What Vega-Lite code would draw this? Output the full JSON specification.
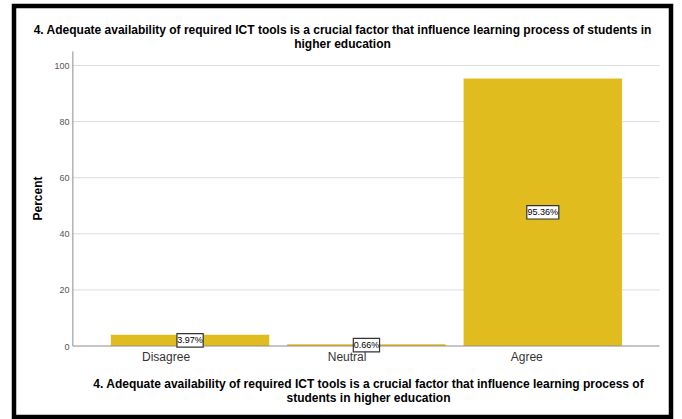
{
  "$schema": "https://vega.github.io/schema/vega-lite/v6.json",
  "autosize": {"type": "none"},
  "padding": {"left": 14, "top": 6, "right": 11, "bottom": 2},
  "width": 657,
  "height": 411,
  "background": "white",
  "config": {
    "view": {"stroke": "black", "strokeWidth": 4.5, "fill": "white"},
    "font": "Liberation Sans"
  },
  "title": {
    "text": ["4. Adequate availability of required ICT tools is a crucial factor that influence learning process of students in", "higher education"],
    "font": "Liberation Sans",
    "fontSize": 12,
    "fontWeight": "bold",
    "color": "#000000",
    "anchor": "middle",
    "offset": -45,
    "lineHeight": 14
  },
  "data": {"values": [
    {"category": "Disagree", "pct": 3.97, "label": "3.97%"},
    {"category": "Neutral", "pct": 0.66, "label": "0.66%"},
    {"category": "Agree", "pct": 95.36, "label": "95.36%"}
  ]},
  "resolve": {"scale": {"y": "independent"}},
  "layer": [
    {
      "layer": [
        {
          "data": {"values": [{"v": 20}, {"v": 40}, {"v": 60}, {"v": 80}, {"v": 100}]},
          "mark": {"type": "rule", "color": "#dcdcdc", "strokeWidth": 1},
          "encoding": {
            "y": {
              "field": "v", "type": "quantitative",
              "scale": {"domain": [-25.31, 121.21], "nice": false, "zero": false},
              "axis": {
                "title": "Percent",
                "titleFont": "Liberation Sans", "titleFontSize": 12, "titleFontWeight": "bold", "titleColor": "#000000",
                "titlePadding": 9, "titleY": 192,
                "values": [0, 20, 40, 60, 80, 100],
                "labelFont": "Liberation Sans", "labelFontSize": 9, "labelColor": "#555555", "labelPadding": 4,
                "domain": false, "ticks": false, "tickSize": 0, "grid": false,
                "offset": -59
              }
            },
            "x": {"datum": "Disagree", "type": "nominal", "bandPosition": -0.24},
            "x2": {"datum": "Agree", "bandPosition": 1.237}
          }
        },
        {
          "data": {"values": [{"v": 0}]},
          "mark": {"type": "rule", "color": "#8c8c8c", "strokeWidth": 1},
          "encoding": {
            "y": {"datum": 0, "type": "quantitative"},
            "y2": {"datum": 105},
            "x": {"datum": "Disagree", "type": "nominal", "bandPosition": -0.24}
          }
        },
        {
          "mark": {"type": "bar", "color": "#E1BC1F"},
          "encoding": {
            "x": {
              "field": "category", "type": "nominal",
              "sort": ["Disagree", "Neutral", "Agree"],
              "scale": {"paddingInner": 0.102, "paddingOuter": 0.4136, "align": 0.664},
              "axis": {
                "title": ["4. Adequate availability of required ICT tools is a crucial factor that influence learning process of", "students in higher education"],
                "titleFont": "Liberation Sans", "titleFontSize": 12, "titleFontWeight": "bold", "titleColor": "#000000",
                "titleLineHeight": 14, "titlePadding": 16, "titleX": 354,
                "labelFont": "Liberation Sans", "labelFontSize": 12, "labelColor": "#333333", "labelPadding": 10,
                "labelAngle": 0,
                "domain": false, "ticks": false, "tickSize": 0,
                "offset": -71
              }
            },
            "y": {"field": "pct", "type": "quantitative", "title": "Percent"}
          }
        },
        {
          "data": {"values": [{"v": 0}]},
          "mark": {"type": "rule", "color": "#8c8c8c", "strokeWidth": 1},
          "encoding": {
            "y": {"datum": 0, "type": "quantitative"},
            "x": {"datum": "Disagree", "type": "nominal", "bandPosition": -0.24},
            "x2": {"datum": "Agree", "bandPosition": 1.237}
          }
        }
      ]
    },
    {
      "layer": [
        {
          "mark": {"type": "point", "filled": true, "fill": "white", "stroke": "#333333", "strokeWidth": 1.2, "opacity": 1, "size": 1024},
          "encoding": {
            "x": {"field": "category", "type": "nominal", "sort": ["Disagree", "Neutral", "Agree"]},
            "y": {"field": "pct", "type": "quantitative", "axis": null, "scale": {"domain": [-50.62, 242.42], "nice": false, "zero": false}},
            "shape": {
              "condition": {"test": "datum.pct > 10", "value": "M-1,-0.42L1,-0.42L1,0.42L-1,0.42Z"},
              "value": "M-0.82,-0.42L0.82,-0.42L0.82,0.42L-0.82,0.42Z"
            }
          }
        },
        {
          "mark": {"type": "text", "font": "Liberation Sans", "fontSize": 9, "color": "#000000", "align": "center", "baseline": "middle"},
          "encoding": {
            "x": {"field": "category", "type": "nominal", "sort": ["Disagree", "Neutral", "Agree"]},
            "y": {"field": "pct", "type": "quantitative", "axis": null},
            "text": {"field": "label"}
          }
        }
      ]
    }
  ]
}
